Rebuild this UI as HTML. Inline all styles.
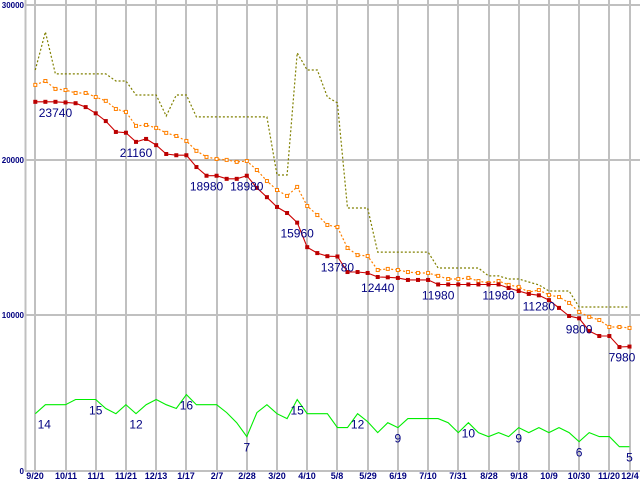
<!DOCTYPE html>
<html><head><meta charset="utf-8"><style>
html,body{margin:0;padding:0;background:#fff;}
svg{display:block;}
text{font-family:"Liberation Sans",sans-serif;}
</style></head><body>
<svg id="chart" width="640" height="480" xmlns="http://www.w3.org/2000/svg"></svg>
<script>
const xLabels = ["9/20","10/11","11/1","11/21","12/13","1/17","2/7","2/28","3/20","4/10","5/8","5/29","6/19","7/10","7/31","8/28","9/18","10/9","10/30","11/20","12/4"];
const xLabelIdx = [0,3,6,9,12,15,18,21,24,27,30,33,36,39,42,45,48,51,54,57,59];
const yTicks = [0,10000,20000,30000];
const redSeries = [23740,23740,23740,23700,23650,23400,23000,22500,21800,21750,21160,21350,20950,20380,20300,20300,19540,18980,18980,18780,18780,18980,18200,17600,16970,16580,15960,14380,14000,13800,13780,12780,12780,12720,12460,12440,12400,12270,12270,12270,11980,11980,11980,11980,11980,11980,11980,11750,11560,11370,11280,10970,10470,9950,9800,8980,8660,8660,7950,7980];
const orangeSeries = [24830,25080,24570,24500,24310,24310,24050,23800,23280,23090,22190,22250,22060,21740,21540,21220,20580,20190,20060,20000,19870,19930,19350,18640,18060,17680,18260,17030,16450,15810,15680,14330,13870,13810,12910,12980,12910,12780,12720,12720,12530,12330,12330,12400,12200,12070,12200,11950,11820,11490,11620,11300,11170,10790,10210,9890,9690,9240,9240,9180];
const oliveSeries = [25790,28240,25540,25540,25540,25540,25540,25540,25080,25080,24180,24180,24180,22830,24180,24180,22770,22770,22770,22770,22770,22770,22770,22770,19030,19030,26890,25790,25790,24050,23670,16900,16900,16900,14060,14060,14060,14060,14060,14060,13040,13040,13040,13040,13040,12530,12530,12330,12330,12140,11950,11560,11560,11560,10530,10530,10530,10530,10530,10530];
const greenSeries = [3660,4240,4240,4240,4570,4570,4570,3990,3660,4240,3660,4240,4570,4240,3990,4890,4240,4240,4240,3730,3080,2180,3730,4240,3660,3340,4570,3660,3660,3660,2760,2760,3660,3150,2440,3080,2760,3340,3340,3340,3340,3080,2440,3080,2440,2180,2440,2180,2760,2440,2760,2440,2760,2440,1860,2440,2180,2180,1530,1530];
const redLabelIdx = [2,10,17,21,26,30,34,40,46,50,54,59];
const redLabelText = ["23740","21160","18980","18980","15960","13780","12440","11980","11980","11280","9800","7980"];
const greenLabelIdx = [0,6,10,15,21,26,32,36,43,48,54,59];
const greenLabelText = ["14","15","12","16","7","15","12","9","10","9","6","5"];

const NS="http://www.w3.org/2000/svg";
const svg=document.getElementById('chart');
const X0=35.3, DX=(629.5-35.3)/59;
const Y0=470.5, YS=155.3/10000;
function xs(i){return X0+i*DX;}
function ys(v){return Y0-v*YS;}
function mk(tag,attrs,parent){const e=document.createElementNS(NS,tag);for(const k in attrs)e.setAttribute(k,attrs[k]);(parent||svg).appendChild(e);return e;}

const grid=mk('g',{});


xLabelIdx.forEach((idx,j)=>{
  const x=Math.round(xs(idx));
  const l=mk('line',{x1:x,x2:x,y1:0,y2:471,stroke:'#c0c0c0','stroke-width':2},grid);
  
  
  const t=mk('text',{x:x,y:479,'text-anchor':'middle','font-size':9,'font-weight':'bold',fill:'#000080'});
  t.textContent=xLabels[j];
  
  
});
yTicks.forEach(v=>{
  const y=Math.round(ys(v));
  const l=mk('line',{x1:25,x2:640,y1:y,y2:y,stroke:'#c0c0c0','stroke-width':2},grid);
  
  
  const t=mk('text',{x:24,y:Math.max(y+3,7),'text-anchor':'end','font-size':8,'font-weight':'bold',fill:'#000080'});
  t.textContent=String(v);
  
  
});
const ax=mk('line',{x1:25.5,x2:25.5,y1:0,y2:471,stroke:'#c0c0c0','stroke-width':2});



function pts(arr){return arr.map((v,i)=>xs(i).toFixed(1)+','+ys(v).toFixed(1)).join(' ');}

const ol=mk('polyline',{points:pts(oliveSeries),fill:'none',stroke:'#808000','stroke-width':1.2,'stroke-dasharray':'2,2'});



const gr=mk('polyline',{points:pts(greenSeries),fill:'none',stroke:'#00ee00','stroke-width':1.1});



const or=mk('polyline',{points:pts(orangeSeries),fill:'none',stroke:'#ff8000','stroke-width':1.2,'stroke-dasharray':'2,2'});


orangeSeries.forEach((v,i)=>{
  const r=mk('rect',{x:xs(i)-1.5,y:ys(v)-1.5,width:3,height:3,fill:'#fff',stroke:'#ff8000','stroke-width':1});
  
  
});

const rd=mk('polyline',{points:pts(redSeries),fill:'none',stroke:'#cc0000','stroke-width':1.1});


redSeries.forEach((v,i)=>{
  const r=mk('rect',{x:xs(i)-2,y:ys(v)-2,width:4,height:4,fill:'#bb0000'});
  
  
});

redLabelIdx.forEach((idx,j)=>{
  let x=xs(idx); if(x>622)x=622;
  const t=mk('text',{x:x,y:ys(redSeries[idx])+15,'text-anchor':'middle','font-size':12,fill:'#000080'});
  t.textContent=redLabelText[j];
  
  
});
greenLabelIdx.forEach((idx,j)=>{
  const x=xs(idx)+(idx===0?9:0);
  const t=mk('text',{x:x,y:ys(greenSeries[idx])+15,'text-anchor':'middle','font-size':12,fill:'#000080'});
  t.textContent=greenLabelText[j];
  
  
});
</script>
</body></html>
